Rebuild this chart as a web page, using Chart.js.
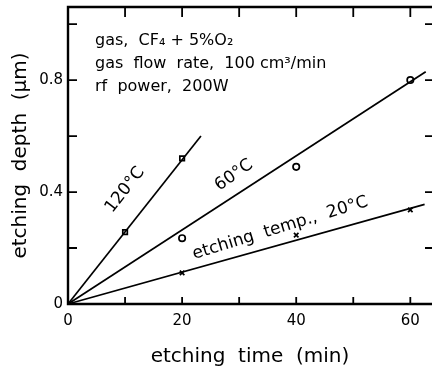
<!DOCTYPE html>
<html>
<head>
<meta charset="utf-8">
<script src="https://cdn.jsdelivr.net/npm/chart.js@4.4.1/dist/chart.umd.min.js"></script>
<style>
  html, body { margin: 0; padding: 0; background: #fff; }
  canvas { display: block; }
</style>
</head>
<body>
<canvas id="chart" width="432" height="372"></canvas>
<script>
// measured points, etching time (min) vs depth (um)
var t120 = [10, 20];
var d120 = [0.257, 0.52];
var t60 = [20, 40, 60];
var d60 = [0.235, 0.49, 0.80];
var t20 = [20, 40, 60];
var d20 = [0.111, 0.246, 0.336];

// fitted straight lines through the origin: end points
var fitX = [23.3, 62.7, 62.5];
var fitY = [0.60, 0.83, 0.356];

var curveNames = ['120\u00b0C', '60\u00b0C', 'etching  temp.,  20\u00b0C'];
var noteLines = [
    'gas,  CF\u2084 + 5%O\u2082',
    'gas  flow  rate,  100 cm\u00b3/min',
    'rf  power,  200W'
];

var FONT = '"DejaVu Sans", sans-serif';

function pts(xs, ys) {
    return xs.map(function (x, i) { return { x: x, y: ys[i] }; });
}

function fitLine(i) {
    return {
        data: [{ x: 0, y: 0 }, { x: fitX[i], y: fitY[i] }],
        showLine: true,
        borderColor: '#000',
        borderWidth: 1.7,
        pointRadius: 0,
        clip: false
    };
}

function markers(xs, ys, style, r) {
    return {
        data: pts(xs, ys),
        showLine: false,
        pointStyle: style,
        pointRadius: r,
        borderColor: '#000',
        backgroundColor: '#fff',
        pointBorderWidth: 1.7
    };
}

// frame with inward ticks on all four sides (right side has no line)
var frame = {
    id: 'frame',
    afterDraw: function (chart) {
        var ctx = chart.ctx, a = chart.chartArea;
        var xs = chart.scales.x, ys = chart.scales.y;
        ctx.save();
        ctx.strokeStyle = '#000';
        ctx.lineWidth = 2.4;
        ctx.beginPath();
        ctx.moveTo(a.right, a.top);
        ctx.lineTo(a.left, a.top);
        ctx.lineTo(a.left, a.bottom);
        ctx.lineTo(a.right, a.bottom);
        ctx.stroke();

        ctx.lineWidth = 1.8;
        ctx.beginPath();
        xs.ticks.forEach(function (t) {
            if (t.value === 0) return;
            var px = xs.getPixelForValue(t.value);
            ctx.moveTo(px, a.bottom);
            ctx.lineTo(px, a.bottom - 7);
            ctx.moveTo(px, a.top);
            ctx.lineTo(px, a.top + 10);
        });
        ys.ticks.forEach(function (t) {
            if (t.value === 0) return;
            var py = ys.getPixelForValue(t.value);
            ctx.moveTo(a.left, py);
            ctx.lineTo(a.left + 9, py);
            ctx.moveTo(a.right, py);
            ctx.lineTo(a.right - 7, py);
        });
        ctx.stroke();
        ctx.restore();
    }
};

// curve names along the lines and the process conditions
var notes = {
    id: 'notes',
    afterDraw: function (chart) {
        var ctx = chart.ctx, a = chart.chartArea;
        var xs = chart.scales.x, ys = chart.scales.y;
        ctx.save();
        ctx.fillStyle = '#000';
        ctx.textAlign = 'center';
        ctx.textBaseline = 'middle';
        ctx.font = '17px ' + FONT;

        var anchors = [[10.0, 0.407, -52], [29.1, 0.46, -35], [37.2, 0.271, -17]];
        anchors.forEach(function (p, i) {
            ctx.save();
            ctx.translate(xs.getPixelForValue(p[0]), ys.getPixelForValue(p[1]));
            ctx.rotate(p[2] * Math.PI / 180);
            ctx.fillText(curveNames[i], 0, 0);
            ctx.restore();
        });

        ctx.textAlign = 'left';
        ctx.textBaseline = 'alphabetic';
        ctx.font = '16px ' + FONT;
        noteLines.forEach(function (s, i) {
            ctx.fillText(s, a.left + 27, a.top + 38 + i * 23);
        });
        ctx.restore();
    }
};

new Chart(document.getElementById('chart'), {
    type: 'scatter',
    data: {
        datasets: [
            fitLine(0), fitLine(1), fitLine(2),
            markers(t120, d120, 'rect', 3.2),
            markers(t60, d60, 'circle', 3.2),
            markers(t20, d20, 'crossRot', 3.2)
        ]
    },
    options: {
        responsive: false,
        devicePixelRatio: 1,
        animation: false,
        layout: { autoPadding: false, padding: { top: 7, right: 0, left: 0, bottom: 0 } },
        plugins: { legend: { display: false }, tooltip: { enabled: false } },
        scales: {
            x: {
                type: 'linear',
                min: 0,
                max: 63.8,
                afterFit: function (s) {
                    s.height = 68;
                    s.paddingLeft = 0;
                    s.paddingRight = 0;
                },
                grid: { display: false, drawTicks: false },
                border: { display: false },
                ticks: {
                    stepSize: 10,
                    includeBounds: false,
                    padding: 8,
                    maxRotation: 0,
                    autoSkip: false,
                    color: '#000',
                    font: { family: FONT, size: 15 },
                    callback: function (v) { return v % 20 === 0 ? String(v) : ''; }
                },
                title: {
                    display: true,
                    text: 'etching  time  (min)',
                    color: '#000',
                    font: { family: FONT, size: 20 },
                    padding: { bottom: 3 }
                }
            },
            y: {
                type: 'linear',
                min: 0,
                max: 1.061,
                afterFit: function (s) {
                    s.width = 68;
                    s.paddingTop = 0;
                    s.paddingBottom = 0;
                },
                grid: { display: false, drawTicks: false },
                border: { display: false },
                ticks: {
                    stepSize: 0.2,
                    includeBounds: false,
                    padding: 5,
                    autoSkip: false,
                    color: '#000',
                    font: { family: FONT, size: 15 },
                    callback: function (v) {
                        var k = Math.round(v * 10);
                        if (k === 0) return '0';
                        return k % 4 === 0 ? (k / 10).toFixed(1) : '';
                    }
                },
                title: {
                    display: true,
                    text: 'etching  depth  (\u00b5m)',
                    color: '#000',
                    font: { family: FONT, size: 20 },
                    padding: { top: 9 }
                }
            }
        }
    },
    plugins: [frame, notes]
});
</script>
</body>
</html>
